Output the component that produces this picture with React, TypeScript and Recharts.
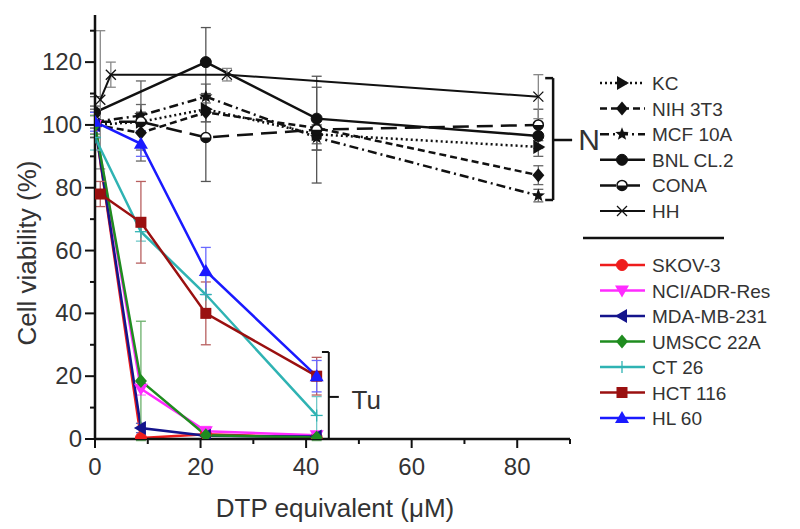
import React from 'react';
import { LineChart, Line, XAxis, YAxis, ErrorBar, ReferenceLine, ReferenceDot } from 'recharts';

const FONT = '"Liberation Sans", Arial, sans-serif';

// x values (DTP equivalent, µM)
const doseN = [0, 8.7, 21, 42, 84];
const doseBNL = [0, 21, 42, 84];
const doseHH = [1, 3, 25, 84];
const doseTu = [0, 8.7, 21, 42];
const doseHCT = [1, 8.7, 21, 42];

// normal cells
const kc = [100, 101, 105, 97, 93];
const kcErr = [4, 3, 4, 3, 3];
const nih = [100, 97.5, 104, 99, 84];
const nihErr = [4, 9, 3, 3, 3];
const mcf = [101, 103, 109, 96, 77.5];
const mcfErr = [4, 11, 4, 4, 2];
const bnl = [104, 120, 102, 96.5];
const bnlErr = [5, 11, 10, 4];
const cona = [101, 101, 96, 98.5, 100];
const conaErr = [5, 3, 14, 17, 5];
const hh = [108, 116, 116, 109];
const hhErr = [22, 4, 2, 7];

// tumour cells
const skov = [100, 0.3, 1.5, 0.5];
const skovErr = [3, 0.5, 0.5, 0.5];
const nci = [100, 16, 2.5, 1.2];
const nciErr = [3, 2, 1.5, 1];
const mda = [100, 3.5, 1, 0.8];
const mdaErr = [3, 1.5, 0.5, 0.5];
const umscc = [100, 18.5, 1.2, 0.5];
const umsccErr = [3, 19, 1, 1];
const ct26 = [96, 66, 46, 7.5];
const ct26Err = [4, 3, 6, 6];
const hct = [78, 69, 40, 20];
const hctErr = [4, 13, 10, 6];
const hl60 = [101, 94, 53.5, 20];
const hl60Err = [3, 4, 7.5, 5];

const xTicks = [0, 10, 20, 30, 40, 50, 60, 70, 80, 90];
const xMajor = [0, 20, 40, 60, 80];
const yTicks = [0, 10, 20, 30, 40, 50, 60, 70, 80, 90, 100, 110, 120, 130];
const yMajor = [0, 20, 40, 60, 80, 100, 120];

type Shape = 'circle' | 'triUp' | 'triDown' | 'triLeft' | 'triRight' | 'diamond' | 'square' | 'star' | 'x' | 'plus' | 'half';

interface Series {
  name: string;
  xs: number[];
  ys: number[];
  err: number[];
  color: string;
  errColor: string;
  dash?: string;
  width: number;
  shape: Shape;
}

const normal: Series[] = [
  { name: 'KC', xs: doseN, ys: kc, err: kcErr, color: '#111', errColor: '#666', dash: '2 3', width: 2.5, shape: 'triRight' },
  { name: 'NIH 3T3', xs: doseN, ys: nih, err: nihErr, color: '#111', errColor: '#666', dash: '7 4', width: 2.5, shape: 'diamond' },
  { name: 'MCF 10A', xs: doseN, ys: mcf, err: mcfErr, color: '#111', errColor: '#666', dash: '9 4 2 4', width: 2.5, shape: 'star' },
  { name: 'BNL CL.2', xs: doseBNL, ys: bnl, err: bnlErr, color: '#111', errColor: '#555', width: 2.5, shape: 'circle' },
  { name: 'CONA', xs: doseN, ys: cona, err: conaErr, color: '#111', errColor: '#555', dash: '16 8', width: 2.5, shape: 'half' },
  { name: 'HH', xs: doseHH, ys: hh, err: hhErr, color: '#111', errColor: '#888', width: 2, shape: 'x' },
];

const tumour: Series[] = [
  { name: 'SKOV-3', xs: doseTu, ys: skov, err: skovErr, color: '#ee1c1c', errColor: '#f07070', width: 2.5, shape: 'circle' },
  { name: 'NCI/ADR-Res', xs: doseTu, ys: nci, err: nciErr, color: '#ff2bff', errColor: '#ff80ff', width: 2.5, shape: 'triDown' },
  { name: 'MDA-MB-231', xs: doseTu, ys: mda, err: mdaErr, color: '#14148c', errColor: '#5a5ab0', width: 2.5, shape: 'triLeft' },
  { name: 'UMSCC 22A', xs: doseTu, ys: umscc, err: umsccErr, color: '#1f8c1f', errColor: '#6ab06a', width: 2.5, shape: 'diamond' },
  { name: 'CT 26', xs: doseTu, ys: ct26, err: ct26Err, color: '#2fb3b3', errColor: '#70c8c8', width: 2.5, shape: 'plus' },
  { name: 'HCT 116', xs: doseHCT, ys: hct, err: hctErr, color: '#9a1010', errColor: '#b86060', width: 2.5, shape: 'square' },
  { name: 'HL 60', xs: doseTu, ys: hl60, err: hl60Err, color: '#1a1aff', errColor: '#6a6aff', width: 2.5, shape: 'triUp' },
];

const toData = (s: Series) => s.xs.map((x, i) => ({ x, y: s.ys[i], e: s.err[i] }));

function Marker({ shape, cx, cy, color }: { shape: Shape; cx: number; cy: number; color: string }) {
  const s = 6;
  switch (shape) {
    case 'circle':
      return <circle cx={cx} cy={cy} r={5.5} fill={color} stroke={color} />;
    case 'square':
      return <rect x={cx - 5.5} y={cy - 5.5} width={11} height={11} fill={color} />;
    case 'diamond':
      return <polygon points={`${cx},${cy - s - 1} ${cx + s},${cy} ${cx},${cy + s + 1} ${cx - s},${cy}`} fill={color} />;
    case 'triUp':
      return <polygon points={`${cx},${cy - s - 1} ${cx + s + 1},${cy + s - 1} ${cx - s - 1},${cy + s - 1}`} fill={color} />;
    case 'triDown':
      return <polygon points={`${cx},${cy + s + 1} ${cx + s + 1},${cy - s + 1} ${cx - s - 1},${cy - s + 1}`} fill={color} />;
    case 'triLeft':
      return <polygon points={`${cx - s - 1},${cy} ${cx + s - 1},${cy - s - 1} ${cx + s - 1},${cy + s + 1}`} fill={color} />;
    case 'triRight':
      return <polygon points={`${cx + s + 1},${cy} ${cx - s + 1},${cy - s - 1} ${cx - s + 1},${cy + s + 1}`} fill={color} />;
    case 'star': {
      const pts: string[] = [];
      for (let i = 0; i < 10; i++) {
        const r = i % 2 === 0 ? 7 : 3;
        const a = -Math.PI / 2 + (i * Math.PI) / 5;
        pts.push(`${cx + r * Math.cos(a)},${cy + r * Math.sin(a)}`);
      }
      return <polygon points={pts.join(' ')} fill={color} />;
    }
    case 'x':
      return (
        <g stroke={color} strokeWidth={1.3}>
          <line x1={cx - 5} y1={cy - 5} x2={cx + 5} y2={cy + 5} />
          <line x1={cx - 5} y1={cy + 5} x2={cx + 5} y2={cy - 5} />
        </g>
      );
    case 'plus':
      return (
        <g stroke={color} strokeWidth={1.3}>
          <line x1={cx - 6} y1={cy} x2={cx + 6} y2={cy} />
          <line x1={cx} y1={cy - 6} x2={cx} y2={cy + 6} />
        </g>
      );
    case 'half':
      return (
        <g>
          <circle cx={cx} cy={cy} r={5} fill="#fff" stroke={color} strokeWidth={1.5} />
          <path d={`M ${cx - 5} ${cy} A 5 5 0 0 0 ${cx + 5} ${cy} Z`} fill={color} />
        </g>
      );
    default:
      return null;
  }
}

const dotFor = (s: Series) => (p: any) => {
  if (p.cx == null || p.cy == null) return <g key={`${s.name}-${p.index}`} />;
  return (
    <g key={`${s.name}-${p.index}`}>
      <Marker shape={s.shape} cx={p.cx} cy={p.cy} color={s.color} />
    </g>
  );
};

const XTick = (props: any) => {
  const { x, y, payload } = props;
  const major = xMajor.includes(payload.value);
  return (
    <g>
      <line x1={x} y1={y} x2={x} y2={y + (major ? 9 : 5)} stroke="#111" strokeWidth={2} />
      {major && (
        <text x={x} y={y + 36} textAnchor="middle" fontSize={24} fontFamily={FONT} fill="#333">
          {payload.value}
        </text>
      )}
    </g>
  );
};

const YTick = (props: any) => {
  const { x, y, payload } = props;
  const major = yMajor.includes(payload.value);
  return (
    <g>
      <line x1={x} y1={y} x2={x - (major ? 10 : 5)} y2={y} stroke="#111" strokeWidth={2} />
      {major && (
        <text x={x - 13} y={y + 8} textAnchor="end" fontSize={24} fontFamily={FONT} fill="#333">
          {payload.value}
        </text>
      )}
    </g>
  );
};

function LegendRow({ s, y }: { s: Series; y: number }) {
  return (
    <g>
      <line x1={20} y1={y} x2={65} y2={y} stroke={s.color} strokeWidth={s.width} strokeDasharray={s.dash} />
      <Marker shape={s.shape} cx={42} cy={y} color={s.color} />
      <text x={72} y={y + 7} fontSize={19} fontFamily={FONT} fill="#333">
        {s.name}
      </text>
    </g>
  );
}

function LegendBox() {
  return (
    <svg width={220} height={370} style={{ position: 'absolute', left: 580, top: 70 }}>
      {normal.map((s, i) => (
        <LegendRow key={s.name} s={s} y={13 + i * 25.6} />
      ))}
      <line x1={3} y1={168} x2={144} y2={168} stroke="#111" strokeWidth={2.5} />
      {tumour.map((s, i) => (
        <LegendRow key={s.name} s={s} y={195 + i * 25.5} />
      ))}
    </svg>
  );
}

const renderSeries = (s: Series) => (
  <Line
    key={s.name}
    data={toData(s)}
    dataKey="y"
    type="linear"
    stroke={s.color}
    strokeWidth={s.width}
    strokeDasharray={s.dash}
    dot={dotFor(s)}
    activeDot={false}
    isAnimationActive={false}
    name={s.name}
  >
    <ErrorBar dataKey="e" direction="y" width={5} stroke={s.errColor} strokeWidth={1.3} />
  </Line>
);

export default function App() {
  return (
    <div style={{ position: 'absolute', left: 0, top: 0, width: 800, height: 529, background: '#fff' }}>
      <LineChart width={800} height={529} margin={{ top: 15, right: 230, left: 35, bottom: 40 }}>
        <XAxis
          dataKey="x"
          type="number"
          domain={[0, 90]}
          ticks={xTicks}
          interval={0}
          tick={<XTick />}
          tickLine={false}
          tickSize={0}
          tickMargin={0}
          height={50}
          axisLine={{ stroke: '#111', strokeWidth: 2.5 }}
          allowDataOverflow
          label={{
            content: () => (
              <text x={335} y={517} textAnchor="middle" fontSize={26} fontFamily={FONT} fill="#333">
                DTP equivalent (μM)
              </text>
            ),
          }}
        />
        <YAxis
          type="number"
          domain={[0, 135]}
          ticks={yTicks}
          interval={0}
          tick={<YTick />}
          tickLine={false}
          tickSize={0}
          tickMargin={0}
          width={60}
          axisLine={{ stroke: '#111', strokeWidth: 2.5 }}
          allowDataOverflow
          label={{
            content: () => (
              <text
                x={36}
                y={253}
                textAnchor="middle"
                fontSize={26}
                fontFamily={FONT}
                fill="#333"
                transform="rotate(-90 36 253)"
              >
                Cell viability (%)
              </text>
            ),
          }}
        />
        {normal.map(renderSeries)}
        {tumour.map(renderSeries)}

        {/* N bracket */}
        <ReferenceLine segment={[{ x: 86.8, y: 114.9 }, { x: 86.8, y: 76.1 }]} stroke="#111" strokeWidth={2.5} ifOverflow="visible" />
        <ReferenceLine segment={[{ x: 85.3, y: 114.9 }, { x: 86.8, y: 114.9 }]} stroke="#111" strokeWidth={2.5} ifOverflow="visible" />
        <ReferenceLine segment={[{ x: 85.3, y: 76.1 }, { x: 86.8, y: 76.1 }]} stroke="#111" strokeWidth={2.5} ifOverflow="visible" />
        <ReferenceLine segment={[{ x: 86.8, y: 95.2 }, { x: 90.4, y: 95.2 }]} stroke="#111" strokeWidth={2.5} ifOverflow="visible" />
        <ReferenceDot
          x={93.6}
          y={95.3}
          r={0}
          ifOverflow="visible"
          label={{ value: 'N', position: 'center', fontSize: 30, fontFamily: FONT, fill: '#333' }}
        />

        {/* Tu bracket */}
        <ReferenceLine segment={[{ x: 44.3, y: 27.7 }, { x: 44.3, y: 0 }]} stroke="#111" strokeWidth={2} ifOverflow="visible" />
        <ReferenceLine segment={[{ x: 43.0, y: 27.7 }, { x: 44.3, y: 27.7 }]} stroke="#111" strokeWidth={2} ifOverflow="visible" />
        <ReferenceLine segment={[{ x: 44.3, y: 13.4 }, { x: 46.2, y: 13.4 }]} stroke="#111" strokeWidth={2} ifOverflow="visible" />
        <ReferenceDot
          x={51.4}
          y={12.4}
          r={0}
          ifOverflow="visible"
          label={{ value: 'Tu', position: 'center', fontSize: 26, fontFamily: FONT, fill: '#333' }}
        />
      </LineChart>
      <LegendBox />
    </div>
  );
}
